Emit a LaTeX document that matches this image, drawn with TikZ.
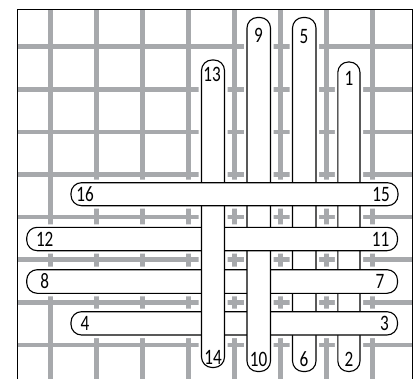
\documentclass[tikz,border=0pt]{standalone}
\usepackage{fontspec}
\setmainfont{Carlito}
\definecolor{gridgray}{HTML}{A7A9AC}
\newcommand{\nm}[1]{\scalebox{0.78}[1]{#1}}
\begin{document}
\begin{tikzpicture}[x=1pt,y=-1pt,
  gridline/.style={draw=gridgray,line width=4.6pt},
  halo/.style={draw=white,line width=6pt,rounded corners=10.5pt},
  stitch/.style={fill=white,draw=black,line width=1.1pt,rounded corners=10.5pt},
  num/.style={font=\fontsize{22}{22}\selectfont,inner sep=0pt}]
\useasboundingbox (0,0) rectangle (419,379);
\fill[white] (0,0) rectangle (419,379);
% fabric grid
\foreach \i in {0,...,7} {
  \draw[gridline] ({50.7+45.95*\i},9.3) -- ({50.7+45.95*\i},379);
  \draw[gridline] (17.3,{46.7+42.6*\i}) -- (412.3,{46.7+42.6*\i});
}
\draw[line width=1.1pt] (17.3,379) -- (17.3,9.3) -- (412.3,9.3) -- (412.3,379);
% stitch geometry
\def\VA{(201.5,60) rectangle (224.5,367.5)}
\def\VB{(247,17.5) rectangle (270.5,371.5)}
\def\VC{(292.5,17.5) rectangle (316,371.5)}
\def\VD{(337.8,62) rectangle (360,371.5)}
\def\HA{(71,182.7) rectangle (398,205.7)}
\def\HB{(26.7,227.3) rectangle (397.5,250.7)}
\def\HC{(26.7,269.7) rectangle (397.5,293.3)}
\def\HD{(71,311.7) rectangle (397.5,335)}
% halos
\foreach \s in {\VA,\VB,\VC,\VD,\HA,\HB,\HC,\HD} {\draw[halo] \s;}
% stitches in weaving order
\draw[stitch] \VC;
\draw[stitch] \VD;
\draw[stitch] \HC;
\draw[stitch] \HD;
\draw[stitch] \VB;
\draw[stitch] \HB;
\draw[stitch] \VA;
\draw[stitch] \HA;
% numbers
\node[num] (n13) at (212,74) {\nm{13}};
\node[num] (n9) at (258.5,35.5) {\nm{9}};
\node[num] (n5) at (304,36.5) {\nm{5}};
\node[num] (n1) at (349,78) {\nm{1}};
\node[num] (n16) at (85,194) {\nm{16}};
\node[num] (n15) at (381,194) {\nm{15}};
\node[num] (n12) at (44.7,239) {\nm{12}};
\node[num] (n11) at (380.5,239) {\nm{11}};
\node[num] (n8) at (44.7,281.5) {\nm{8}};
\node[num] (n7) at (380,281.5) {\nm{7}};
\node[num] (n4) at (85,323.3) {\nm{4}};
\node[num] (n3) at (384.5,323.3) {\nm{3}};
\node[num] (n14) at (213,357.5) {\nm{14}};
\node[num] (n10) at (258.5,359) {\nm{10}};
\node[num] (n6) at (304,359.5) {\nm{6}};
\node[num] (n2) at (349,359.5) {\nm{2}};
\end{tikzpicture}
\end{document}
